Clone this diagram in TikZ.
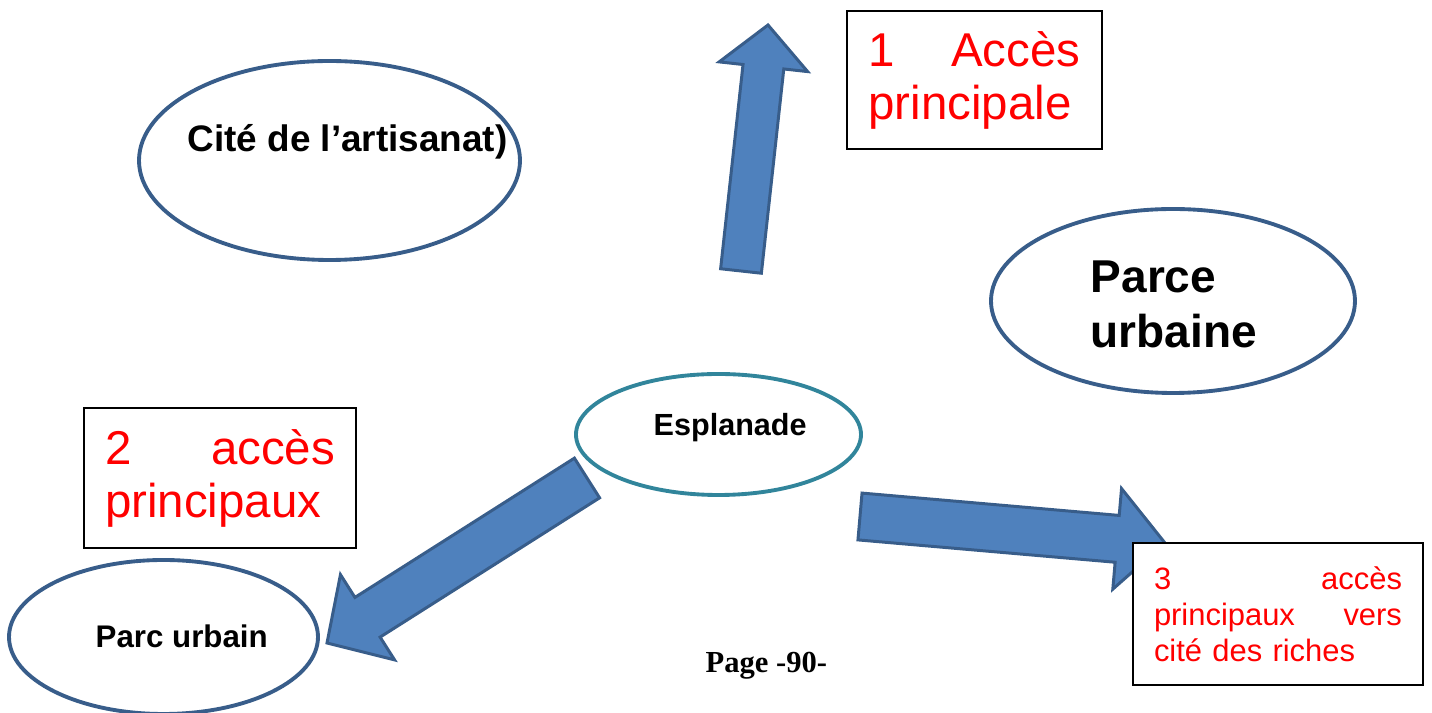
\documentclass[tikz,border=0pt]{standalone}
\usepackage{fontspec}
\setmainfont{Liberation Sans}
\newfontfamily\pageserif{Liberation Serif}
\usepackage{xcolor}
\definecolor{ovalblue}{RGB}{56,93,138}
\definecolor{ovalteal}{RGB}{49,133,155}
\definecolor{arrowfill}{RGB}{79,129,189}
\definecolor{arrowline}{RGB}{56,93,138}
\usepackage{tikz}
\usetikzlibrary{calc,shapes.geometric,positioning}

% block arrow: from, to, shaft half width, head half width, head length
\newcommand{\blockarrow}[5]{%
  \coordinate (headbase) at ($(#2)!#5!(#1)$);
  \draw[bigarrow] ($(#1)!#3!90:(#2)$) -- ($(headbase)!#3!90:(#2)$) -- ($(headbase)!#4!90:(#2)$) -- (#2)
    -- ($(headbase)!#4!-90:(#2)$) -- ($(headbase)!#3!-90:(#2)$) -- ($(#1)!#3!-90:(#2)$) -- cycle;
}

\begin{document}
\begin{tikzpicture}[x=0.1mm, y=-0.1mm,
  zone/.style={draw=ovalblue, line width=1.1pt, fill=white, ellipse, inner sep=0pt},
  zonetext/.style={inner sep=0pt, anchor=base west},
  accesbox/.style={draw=black, line width=0.5pt, fill=white, text=red, align=left,
    inner ysep=0pt, inner xsep=2.1mm},
  bigarrow/.style={draw=arrowline, fill=arrowfill, line width=0.85pt}]

\useasboundingbox (0,0) rectangle (1432,713);

% Zones
\node[zone, minimum width=38.1mm, minimum height=19.9mm] (cite) at (329.5,160.5) {};
\node[zone, minimum width=36.4mm, minimum height=18.4mm] (parce) at (1173,301) {};
\node[zone, draw=ovalteal, minimum width=28.5mm, minimum height=12.1mm] (espl) at (718.5,434.5) {};
\node[zone, minimum width=30.9mm, minimum height=15.4mm] (parc) at (163.5,637) {};

\node[zonetext, font=\fontsize{10.5pt}{12.6pt}\selectfont\bfseries] (citetxt) at (187,152) {Cité de l’artisanat)};
\node[inner sep=0pt, anchor=west, align=left, font=\fontsize{13.1pt}{15.6pt}\selectfont\bfseries]
  (parcetxt) at (1090,304.5) {Parce\\urbaine};
\node[zonetext, font=\fontsize{8.7pt}{10.4pt}\selectfont\bfseries] (espltxt) at (653,436) {Esplanade};
\node[zonetext, font=\fontsize{8.9pt}{10.7pt}\selectfont\bfseries] (parctxt) at (95,648) {Parc urbain};

% Access arrows
\coordinate (acc1from) at (741,271);
\coordinate (acc1to) at (768,25);
\blockarrow{acc1from}{acc1to}{2.05mm}{4.45mm}{4.2mm}

\coordinate (acc2from) at (587,478);
\coordinate (acc2to) at (327,643);
\blockarrow{acc2from}{acc2to}{2.35mm}{5.05mm}{4.8mm}

\coordinate (acc3from) at (860,516.5);
\coordinate (acc3to) at (1165,543);
\blockarrow{acc3from}{acc3to}{2.35mm}{5.05mm}{4.8mm}

% Access labels
\node[accesbox, text width=21.2mm, minimum width=25.5mm, minimum height=13.8mm,
  font=\fontsize{13.5pt}{15.1pt}\selectfont] (box1) at (974.5,80) {1\hfill Accès\\principale};
\node[accesbox, text width=23mm, minimum width=27.2mm, minimum height=14mm,
  font=\fontsize{13.5pt}{15.1pt}\selectfont] (box2) at (220,478) {2\hfill accès\\principaux};
\node[accesbox, text width=24.8mm, minimum width=29mm, minimum height=14.2mm,
  font=\fontsize{8.8pt}{10.2pt}\selectfont] (box3) at (1278,614)
  {3\hfill accès\\principaux\hfill vers\\cité des riches};

\node[inner sep=0pt, anchor=base west, font=\pageserif\bfseries\fontsize{8.7pt}{10.4pt}\selectfont]
  (page) at (705,673) {Page -90-};

\end{tikzpicture}
\end{document}
